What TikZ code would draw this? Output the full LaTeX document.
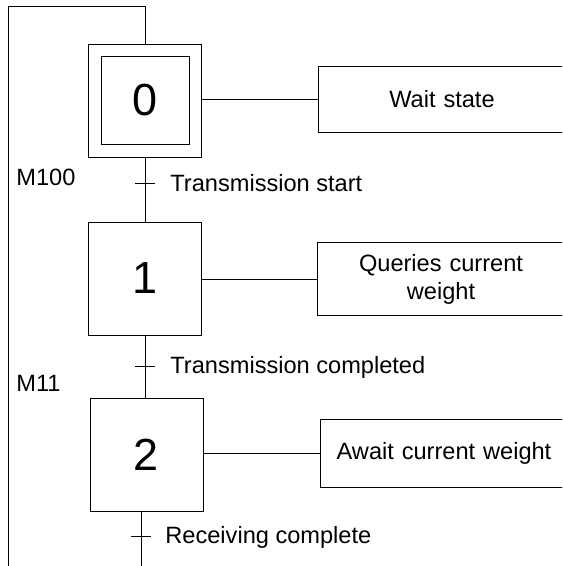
\documentclass[tikz,border=0pt]{standalone}
\usepackage{fontspec}
\setmainfont{Liberation Sans}
\usetikzlibrary{positioning, calc}

\begin{document}
\begin{tikzpicture}[
        x=0.5pt, y=-0.5pt,
        every node/.style={font=\fontsize{11.8}{14}\selectfont},
        stepbox/.style={rectangle, draw, minimum size=56.5pt, inner sep=0pt, font=\fontsize{22.5}{24}\selectfont},
        innerbox/.style={rectangle, draw, minimum size=44pt, inner sep=0pt},
        actionbox/.style={rectangle, text width=115pt, align=center, minimum width=123pt, inner sep=2pt},
        translabel/.style={anchor=west, inner sep=0pt},
        marker/.style={anchor=west, inner sep=0pt}
    ]
        \useasboundingbox (0,0) rectangle (562,566);
        \clip (0,0) rectangle (562,566);

        % Steps
        \node[stepbox] (s0) at (145,100.5) {0};
        \node[innerbox] (s0in) at (s0) {};
        \node[stepbox] (s1) at (145,278.5) {1};
        \node[stepbox] (s2) at (146.5,454.5) {2};

        % Actions (open to the right edge)
        \node[actionbox, minimum height=32.5pt] (a0) at (442,99.5) {Wait state};
        \node[actionbox, minimum height=36pt] (a1) at (441,279) {Queries current\\weight};
        \node[actionbox, minimum height=33.5pt] (a2) at (444,453.5) {Await current weight};
        \foreach \a in {a0,a1,a2}
            \draw (\a.north west) rectangle ([xshift=15pt]\a.south east);

        % Transitions
        \coordinate (tr0) at (145,183);
        \coordinate (tr1) at (145,366);
        \coordinate (tr2) at (141,536);
        \coordinate (s2out) at (141,511);
        \coordinate (end) at (141,570);
        \coordinate (loopbot) at (8,570);
        \coordinate (looptop) at (8,6);

        \node[translabel] (t0) at (170,183) {Transmission start};
        \node[translabel] (t1) at (170,367) {Transmission completed};
        \node[translabel] (t2) at (165,537) {Receiving complete};

        \node[marker] (m100) at (16,177) {M100};
        \node[marker] (m11) at (16,383) {M11};

        % Lines
        \draw (s0) -- (s1);
        \draw (s1.south) -- (s1.south |- s2.north);
        \draw (s2out) -- (end);
        \draw (loopbot) -- (looptop) -| (s0.north);

        \draw ([xshift=-5pt]tr0) -- ([xshift=5pt]tr0);
        \draw ([xshift=-5pt]tr1) -- ([xshift=5pt]tr1);
        \draw ([xshift=-5pt]tr2) -- ([xshift=5pt]tr2);

        \draw (s0.east |- a0.west) -- (a0.west);
        \draw (s1.east |- a1.west) -- (a1.west);
        \draw (s2.east |- a2.west) -- (a2.west);

    \end{tikzpicture}
\end{document}
